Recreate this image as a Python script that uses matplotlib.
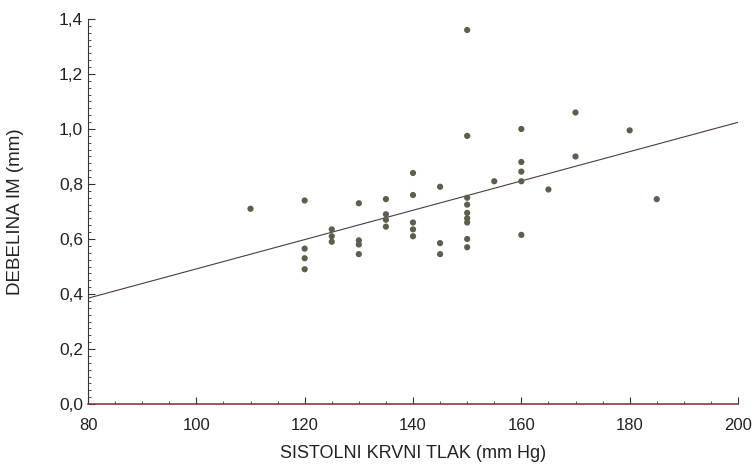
import matplotlib
matplotlib.use("Agg")
import matplotlib.pyplot as plt
from matplotlib.ticker import MultipleLocator, FuncFormatter
import numpy as np

# Data
sbp = [110, 120, 120, 120, 120, 125, 125, 125,
       130, 130, 130, 130, 135, 135, 135, 135,
       140, 140, 140, 140, 140, 145, 145, 145,
       150, 150, 150, 150, 150, 150, 150, 150, 150,
       155, 160, 160, 160, 160, 160, 165, 170, 170, 180, 185]
imt = [0.71, 0.74, 0.565, 0.53, 0.49, 0.635, 0.61, 0.59,
       0.73, 0.595, 0.58, 0.545, 0.745, 0.69, 0.67, 0.645,
       0.84, 0.76, 0.66, 0.635, 0.61, 0.79, 0.585, 0.545,
       1.36, 0.975, 0.75, 0.725, 0.695, 0.675, 0.66, 0.60, 0.57,
       0.81, 1.00, 0.88, 0.845, 0.81, 0.615, 0.78, 1.06, 0.90, 0.995, 0.745]

# Regression line coefficients
fit_intercept = -0.0417
fit_slope = 0.00533
fit_x = [80, 200]

x_ticks = [80, 100, 120, 140, 160, 180, 200]
y_ticks = [0.0, 0.2, 0.4, 0.6, 0.8, 1.0, 1.2, 1.4]

plt.rcParams['font.family'] = ['Liberation Sans', 'DejaVu Sans']

fig = plt.figure(figsize=(7.56, 4.66), dpi=100)
ax = fig.add_axes([88/756, 1-404/466, (738-88)/756, (404-19)/466])

fx = np.array(fit_x, dtype=float)
ax.plot(fx, fit_intercept + fit_slope*fx, color='#4a3c3c', lw=0.8, zorder=2)
ax.scatter(sbp, imt, s=20, color='#5f5e4c', edgecolors='none', zorder=3)

ax.set_xlim(80, 200)
ax.set_ylim(0, 1.4)
ax.set_xticks(x_ticks)
ax.set_yticks(y_ticks)
ax.xaxis.set_minor_locator(MultipleLocator(5))
ax.yaxis.set_minor_locator(MultipleLocator(0.025))
ax.yaxis.set_major_formatter(FuncFormatter(lambda v, p: f"{v:.1f}".replace('.', ',')))

for s in ['top', 'right']:
    ax.spines[s].set_visible(False)
ax.spines['left'].set_color('#333333')
ax.spines['left'].set_linewidth(0.8)
ax.spines['bottom'].set_color('#8b3a3a')
ax.spines['bottom'].set_linewidth(1.2)

ax.tick_params(axis='both', which='major', direction='in', length=5, width=0.8,
               color='#333333', labelcolor='#222222')
ax.tick_params(axis='both', which='minor', direction='in', length=2.5, width=0.6,
               color='#333333')
ax.tick_params(axis='x', pad=10, labelsize=12)
ax.tick_params(axis='y', pad=3.5, labelsize=12.5)

ax.set_xlabel('SISTOLNI KRVNI TLAK (mm Hg)', fontsize=13, color='#222222',
              labelpad=8.5)
ax.set_ylabel('DEBELINA IM (mm)', fontsize=13.5, color='#222222',
              labelpad=25)

fig.savefig('out.png', dpi=100)
